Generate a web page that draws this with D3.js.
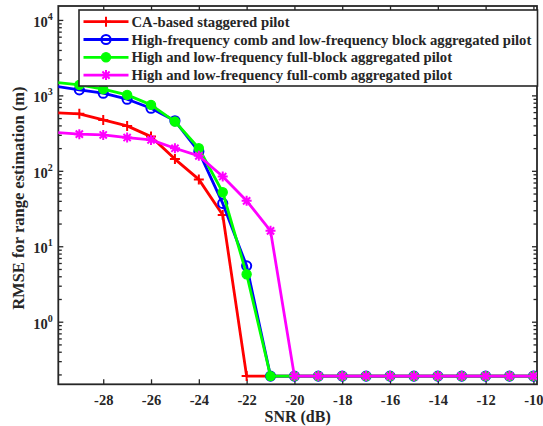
<!DOCTYPE html>
<html>
<head>
<meta charset="utf-8">
<script src="https://cdn.jsdelivr.net/npm/d3@7"></script>
<style>
  body { margin: 0; background: #fff; }
  text { font-family: "Liberation Serif", "Times New Roman", serif; font-weight: bold; fill: #262626; }
</style>
</head>
<body>
<script>
// Données (SNR en dB, RMSE en m)
const snr = [-30, -29, -28, -27, -26, -25, -24, -23, -22, -21, -20, -19, -18, -17, -16, -15, -14, -13, -12, -11, -10];
const caStaggered = [590, 569, 473, 394, 284, 143, 77, 26, 0.19, 0.19, 0.19, 0.19, 0.19, 0.19, 0.19, 0.19, 0.19, 0.19, 0.19, 0.19, 0.19];
const combBlock  = [1325, 1183, 1069, 890, 676, 460, 180, 37, 5.5, 0.19, 0.19, 0.19, 0.19, 0.19, 0.19, 0.19, 0.19, 0.19, 0.19, 0.19, 0.19];
const fullBlock  = [1490, 1377, 1208, 1016, 748, 450, 199, 52, 4.25, 0.19, 0.19, 0.19, 0.19, 0.19, 0.19, 0.19, 0.19, 0.19, 0.19, 0.19, 0.19];
const fullComb   = [323, 306, 299, 276, 257, 199, 158, 84, 40, 16, 0.19, 0.19, 0.19, 0.19, 0.19, 0.19, 0.19, 0.19, 0.19, 0.19, 0.19];
const seriesNames = [
  "CA-based staggered pilot",
  "High-frequency comb and low-frequency block aggregated pilot",
  "High and low-frequency full-block aggregated pilot",
  "High and low-frequency full-comb aggregated pilot"
];
const xTicks = [-28, -26, -24, -22, -20, -18, -16, -14, -12, -10];
const yMajor = [1, 10, 100, 1000, 10000];

const W = 543, H = 426;
const margin = { top: 6, right: 6, bottom: 41.7, left: 58.3 },
      width = W - margin.left - margin.right,
      height = H - margin.top - margin.bottom;

const svg = d3.select("body").append("svg")
    .attr("width", W)
    .attr("height", H);

const g = svg.append("g")
    .attr("transform", "translate(" + margin.left + "," + margin.top + ")");

const x = d3.scaleLinear().domain([-29.88, -9.85]).range([0, width]);
const y = d3.scaleLog().domain([0.148, 15300]).range([height, 0]);

const axisColor = "#262626";

g.append("clipPath").attr("id", "clip")
  .append("rect").attr("width", width).attr("height", height);

// Graduations mineures de l'axe log
const yMinor = [];
[0.1, 1, 10, 100, 1000].forEach(dec => {
  for (let k = 2; k <= 9; k++) {
    const v = dec * k;
    if (v >= y.domain()[0] && v <= y.domain()[1]) yMinor.push(v);
  }
});

// Axes : graduations vers l'intérieur, boîte fermée
const axes = g.append("g");
axes.append("g").attr("transform", "translate(0," + height + ")")
  .call(d3.axisBottom(x).tickValues(xTicks).tickSizeInner(-5).tickSizeOuter(0).tickFormat(d => d))
  .call(s => s.select(".domain").remove())
  .call(s => s.selectAll("text").attr("dy", null).attr("y", 20.5).style("font-size", "14.5px").style("font-family", null).style("font-weight", null));
axes.append("g")
  .call(d3.axisTop(x).tickValues(xTicks).tickSizeInner(-5).tickSizeOuter(0).tickFormat(""))
  .call(s => s.select(".domain").remove());

function yAxisSide(axisFn, xpos, vals, size) {
  axes.append("g").attr("transform", "translate(" + xpos + ",0)")
    .call(axisFn(y).tickValues(vals).tickSizeInner(size).tickSizeOuter(0).tickFormat(""))
    .call(s => s.select(".domain").remove());
}
yAxisSide(d3.axisLeft, 0, yMajor, -5);
yAxisSide(d3.axisLeft, 0, yMinor, -3.5);
yAxisSide(d3.axisRight, width, yMajor, -5);
yAxisSide(d3.axisRight, width, yMinor, -3.5);
axes.selectAll("line").attr("stroke", axisColor).attr("stroke-width", 1.3);

// Étiquettes 10^n
const yl = axes.append("g").selectAll("text").data(yMajor).enter().append("text")
  .attr("x", -5.5)
  .attr("y", d => y(d) + 7)
  .attr("text-anchor", "end")
  .style("font-size", "14.5px");
yl.append("tspan").text("10");
yl.append("tspan").attr("dy", -7).style("font-size", "10px").text(d => Math.round(Math.log10(d)));

axes.append("rect")
  .attr("width", width).attr("height", height)
  .attr("fill", "none").attr("stroke", axisColor).attr("stroke-width", 1.8);

// Titres des axes
g.append("text")
  .attr("x", width / 2).attr("y", height + 38)
  .attr("text-anchor", "middle").style("font-size", "16px")
  .text("SNR (dB)");
g.append("text")
  .attr("transform", "translate(" + (-34) + "," + (height / 2 + 3) + ") rotate(-90)")
  .attr("text-anchor", "middle").style("font-size", "16.5px")
  .text("RMSE for range estimation (m)");

// Marqueurs
const colors = ["#ff0000", "#0000ff", "#00ff00", "#ff00ff"];
const series = [caStaggered, combBlock, fullBlock, fullComb];
const markerKinds = ["plus", "circle", "dot", "star"];

function drawMarker(sel, kind, color) {
  if (kind === "plus") {
    sel.append("path").attr("d", "M-5,0H5M0,-5V5").attr("stroke", color).attr("stroke-width", 2).attr("fill", "none");
  } else if (kind === "circle") {
    sel.append("circle").attr("r", 4.6).attr("fill", "none").attr("stroke", color).attr("stroke-width", 2);
  } else if (kind === "dot") {
    sel.append("circle").attr("r", 4.6).attr("fill", color).attr("stroke", color).attr("stroke-width", 1.2);
  } else {
    sel.append("path").attr("d", "M-5,0H5M0,-5V5M-3.6,-3.6L3.6,3.6M-3.6,3.6L3.6,-3.6")
      .attr("stroke", color).attr("stroke-width", 2).attr("fill", "none");
  }
}

const line = d3.line().x(d => x(d[0])).y(d => y(d[1]));
const plot = g.append("g").attr("clip-path", "url(#clip)");

series.forEach((vals, i) => {
  const pts = snr.map((s, j) => [s, vals[j]]);
  plot.append("path")
    .datum(pts)
    .attr("d", line)
    .attr("fill", "none")
    .attr("stroke", colors[i])
    .attr("stroke-width", 2.8)
    .attr("stroke-linejoin", "round");
  plot.append("g").selectAll("g")
    .data(pts.filter(p => p[0] >= x.domain()[0] && p[0] <= x.domain()[1]))
    .enter().append("g")
    .attr("transform", d => "translate(" + x(d[0]) + "," + y(d[1]) + ")")
    .each(function() { drawMarker(d3.select(this), markerKinds[i], colors[i]); });
});

// Légende
const lg = svg.append("g");
lg.append("rect")
  .attr("x", 79).attr("y", 10).attr("width", 537.5 - 79).attr("height", 76)
  .attr("fill", "#fff").attr("stroke", axisColor).attr("stroke-width", 1.6);
seriesNames.forEach((name, i) => {
  const cy = 21.7 + i * 17.8;
  lg.append("line").attr("x1", 83.5).attr("x2", 128.5).attr("y1", cy).attr("y2", cy)
    .attr("stroke", colors[i]).attr("stroke-width", 2.8);
  const m = lg.append("g").attr("transform", "translate(106," + cy + ")");
  drawMarker(m, markerKinds[i], colors[i]);
  lg.append("text").attr("x", 131.5).attr("y", cy + 5).style("font-size", "14.7px").text(name);
});
</script>
</body>
</html>
